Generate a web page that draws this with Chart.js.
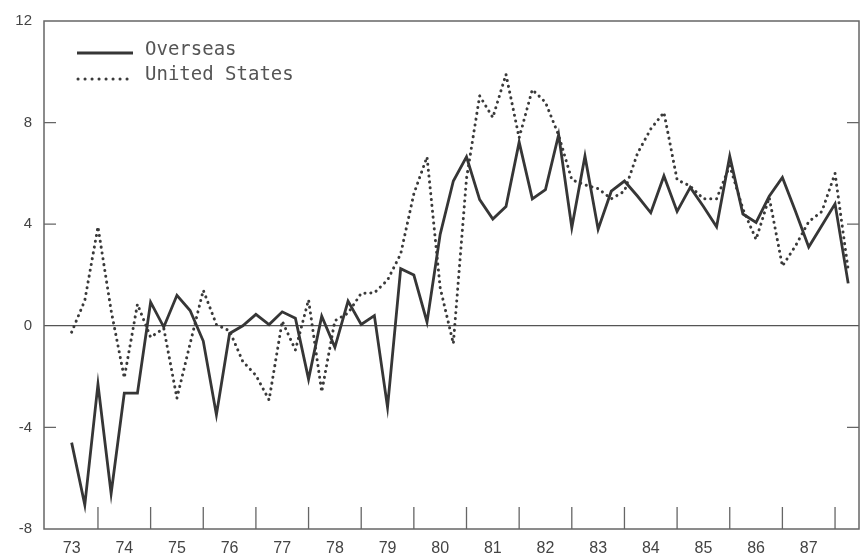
<!DOCTYPE html>
<html>
<head>
<meta charset="utf-8">
<script src="https://cdn.jsdelivr.net/npm/chart.js@4.4.1/dist/chart.umd.min.js"></script>
<style>
  html, body { margin: 0; padding: 0; background: #fff; }
  #wrap { width: 860px; height: 560px; }
</style>
</head>
<body>
<div id="wrap"><canvas id="chart" width="860" height="560"></canvas></div>
<script>
const quarters = [
  '73Q3', '73Q4',
  '74Q1', '74Q2', '74Q3', '74Q4',
  '75Q1', '75Q2', '75Q3', '75Q4',
  '76Q1', '76Q2', '76Q3', '76Q4',
  '77Q1', '77Q2', '77Q3', '77Q4',
  '78Q1', '78Q2', '78Q3', '78Q4',
  '79Q1', '79Q2', '79Q3', '79Q4',
  '80Q1', '80Q2', '80Q3', '80Q4',
  '81Q1', '81Q2', '81Q3', '81Q4',
  '82Q1', '82Q2', '82Q3', '82Q4',
  '83Q1', '83Q2', '83Q3', '83Q4',
  '84Q1', '84Q2', '84Q3', '84Q4',
  '85Q1', '85Q2', '85Q3', '85Q4',
  '86Q1', '86Q2', '86Q3', '86Q4',
  '87Q1', '87Q2', '87Q3', '87Q4',
  '88Q1', '88Q2'
];

const overseas = [
  -4.6, -7.05,
  -2.3, -6.6, -2.65, -2.65,
  0.93, -0.05, 1.2, 0.6,
  -0.6, -3.5, -0.3, 0.0,
  0.45, 0.05, 0.55, 0.3,
  -2.1, 0.38, -0.85, 0.97,
  0.05, 0.4, -3.2, 2.25,
  2.0, 0.15, 3.6, 5.7,
  6.65, 4.97, 4.2, 4.7,
  7.23, 5.0, 5.36, 7.52,
  3.87, 6.68, 3.8, 5.3,
  5.7, 5.1, 4.45, 5.9,
  4.5, 5.45, 4.7, 3.9,
  6.68, 4.4, 4.07, 5.1,
  5.84, 4.5, 3.1, 3.95,
  4.8, 1.67
];

const unitedStates = [
  -0.25, 1.0,
  3.9, 0.6, -2.05, 0.85,
  -0.45, -0.1, -2.85, -0.7,
  1.4, 0.05, -0.2, -1.4,
  -1.95, -2.92, 0.18, -0.95,
  1.02, -2.6, 0.2, 0.5,
  1.28, 1.3, 1.8, 2.83,
  5.2, 6.65, 1.5, -0.7,
  5.8, 9.05, 8.2, 9.9,
  7.4, 9.3, 8.8, 7.5,
  5.75, 5.55, 5.4, 5.0,
  5.3, 6.8, 7.75, 8.4,
  5.75, 5.5, 5.0, 5.0,
  6.3, 4.6, 3.4, 5.05,
  2.35, 3.15, 4.1, 4.5,
  6.0, 2.2
];

const yearLabels = ['73', '74', '75', '76', '77', '78', '79', '80', '81', '82', '83', '84', '85', '86', '87'];
const yTicks = [-8, -4, 0, 4, 8, 12];

// quarter label -> position on a year axis
function quarterPos(q) {
  return 1900 + parseInt(q.slice(0, 2)) + (parseInt(q.slice(3)) - 1) / 4;
}
const labelPos = yearLabels.map(y => 1900 + parseInt(y) + 0.5);
const yearBreaks = yearLabels.map(y => 1900 + parseInt(y) + 1);

const lineColor = '#363636';
const dotColor = '#3a3a3a';
const frameColor = '#666';
const textColor = '#444';

const framePlugin = {
  id: 'frame',
  afterDraw(chart) {
    const { ctx, chartArea: a, scales: { x, y } } = chart;
    ctx.save();
    ctx.strokeStyle = frameColor;
    ctx.lineWidth = 1.5;
    ctx.strokeRect(a.left, a.top, a.right - a.left, a.bottom - a.top);

    ctx.lineWidth = 1.3;
    ctx.beginPath();
    yearBreaks.forEach(v => {
      const px = x.getPixelForValue(v);
      ctx.moveTo(px, a.bottom);
      ctx.lineTo(px, a.bottom - 22);
    });
    [-4, 4, 8].forEach(v => {
      const py = y.getPixelForValue(v);
      ctx.moveTo(a.left, py);
      ctx.lineTo(a.left + 12, py);
      ctx.moveTo(a.right, py);
      ctx.lineTo(a.right - 12, py);
    });
    ctx.stroke();

    // legend
    const sx = 77, ex = 133;
    ctx.lineWidth = 2.8;
    ctx.strokeStyle = lineColor;
    ctx.beginPath();
    ctx.moveTo(sx, 53);
    ctx.lineTo(ex, 53);
    ctx.stroke();

    ctx.lineWidth = 3;
    ctx.strokeStyle = dotColor;
    ctx.lineCap = 'round';
    ctx.setLineDash([0.1, 6.9]);
    ctx.beginPath();
    ctx.moveTo(sx + 1, 79);
    ctx.lineTo(ex, 79);
    ctx.stroke();
    ctx.setLineDash([]);

    ctx.fillStyle = '#555';
    ctx.font = '19px "DejaVu Sans Mono"';
    ctx.textBaseline = 'alphabetic';
    ctx.fillText(chart.data.datasets[0].label, 145, 55);
    ctx.fillText(chart.data.datasets[1].label, 145, 80);
    ctx.restore();
  }
};

new Chart(document.getElementById('chart'), {
  type: 'line',
  data: {
    datasets: [
      {
        label: 'Overseas',
        data: quarters.map((q, i) => ({ x: quarterPos(q), y: overseas[i] })),
        borderColor: lineColor,
        borderWidth: 2.8,
        pointRadius: 0,
        tension: 0
      },
      {
        label: 'United States',
        data: quarters.map((q, i) => ({ x: quarterPos(q), y: unitedStates[i] })),
        borderColor: dotColor,
        borderWidth: 3,
        borderDash: [0.1, 5.8],
        borderCapStyle: 'round',
        pointRadius: 0,
        tension: 0
      }
    ]
  },
  options: {
    responsive: false,
    animation: false,
    layout: { padding: { top: 14, right: 1, left: 0, bottom: 0 } },
    plugins: { legend: { display: false }, tooltip: { enabled: false } },
    scales: {
      x: {
        type: 'linear',
        min: 1972.975,
        max: 1988.455,
        afterBuildTicks: s => { s.ticks = labelPos.map(v => ({ value: v })); },
        afterFit: s => { s.height = 31; },
        grid: { display: false, drawTicks: false },
        border: { display: false },
        ticks: {
          autoSkip: false,
          maxRotation: 0,
          padding: 10,
          color: textColor,
          font: { family: '"Liberation Sans"', size: 16 },
          callback: (v, i) => yearLabels[i]
        }
      },
      y: {
        min: -8,
        max: 12,
        afterBuildTicks: s => { s.ticks = yTicks.map(v => ({ value: v })); },
        afterFit: s => { s.width = 44; },
        grid: {
          drawTicks: false,
          color: c => c.tick && c.tick.value === 0 ? '#555' : 'transparent',
          lineWidth: 1.3
        },
        border: { display: false },
        ticks: {
          padding: 12,
          color: textColor,
          font: { family: '"Liberation Sans"', size: 15 }
        }
      }
    }
  },
  plugins: [framePlugin]
});
</script>
</body>
</html>
